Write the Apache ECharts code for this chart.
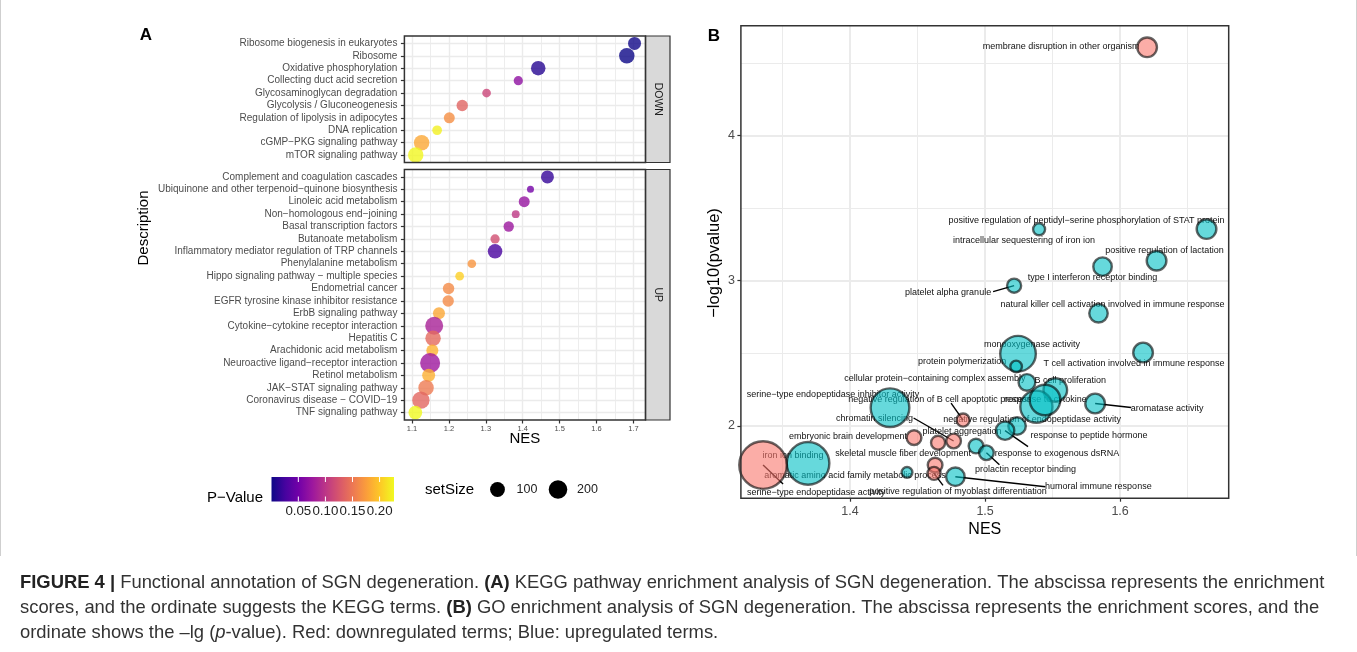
<!DOCTYPE html>
<html>
<head>
<meta charset="utf-8">
<title>Functional annotation of SGN degeneration</title>
<script src="https://cdn.jsdelivr.net/npm/echarts@6/dist/echarts.min.js"></script>
<style>
  html, body { margin: 0; padding: 0; background: #fff; }
  #chart { width: 1357px; height: 652px; }
</style>
</head>
<body>
<div id="chart"></div>
<script>
// ---------- panel A: KEGG terms, listed top to bottom ----------
var keggDown = ['Ribosome biogenesis in eukaryotes', 'Ribosome', 'Oxidative phosphorylation',
  'Collecting duct acid secretion', 'Glycosaminoglycan degradation', 'Glycolysis / Gluconeogenesis',
  'Regulation of lipolysis in adipocytes', 'DNA replication', 'cGMP\u2212PKG signaling pathway',
  'mTOR signaling pathway']
var keggDownNES = [1.703, 1.682, 1.442, 1.388, 1.302, 1.236, 1.201, 1.168, 1.126, 1.110]
var keggDownSize = [65, 115, 93, 22, 19, 42, 37, 25, 115, 115]
var keggDownP = [0.002, 0.0005, 0.012, 0.068, 0.113, 0.136, 0.166, 0.222, 0.181, 0.225]

var keggUp = ['Complement and coagulation cascades', 'Ubiquinone and other terpenoid\u2212quinone biosynthesis',
  'Linoleic acid metabolism', 'Non\u2212homologous end\u2212joining', 'Basal transcription factors',
  'Butanoate metabolism', 'Inflammatory mediator regulation of TRP channels', 'Phenylalanine metabolism',
  'Hippo signaling pathway \u2212 multiple species', 'Endometrial cancer',
  'EGFR tyrosine kinase inhibitor resistance', 'ErbB signaling pathway',
  'Cytokine\u2212cytokine receptor interaction', 'Hepatitis C', 'Arachidonic acid metabolism',
  'Neuroactive ligand\u2212receptor interaction', 'Retinol metabolism', 'JAK\u2212STAT signaling pathway',
  'Coronavirus disease \u2212 COVID\u221219', 'TNF signaling pathway']
var keggUpNES = [1.467, 1.421, 1.404, 1.381, 1.362, 1.325, 1.325, 1.262, 1.229, 1.199,
  1.198, 1.173, 1.160, 1.157, 1.155, 1.149, 1.145, 1.138, 1.124, 1.109]
var keggUpSize = [65, 15, 37, 16, 31, 22, 93, 19, 19, 42, 42, 50, 183, 115, 50, 250, 65, 115, 163, 79]
var keggUpP = [0.018, 0.052, 0.072, 0.102, 0.075, 0.12, 0.027, 0.17, 0.204, 0.163,
  0.163, 0.181, 0.084, 0.14, 0.188, 0.077, 0.186, 0.152, 0.138, 0.2266]

var nesTicksA = [1.1, 1.2, 1.3, 1.4, 1.5, 1.6, 1.7]
var pTicks = [0.05, 0.10, 0.15, 0.20]
var setSizeLegend = [100, 200]

// ---------- panel B: GO terms ----------
var goTerms = ['membrane disruption in other organism',
  'positive regulation of peptidyl\u2212serine phosphorylation of STAT protein',
  'intracellular sequestering of iron ion', 'positive regulation of lactation',
  'type I interferon receptor binding', 'platelet alpha granule',
  'natural killer cell activation involved in immune response', 'monooxygenase activity',
  'protein polymerization', 'T cell activation involved in immune response',
  'cellular protein\u2212containing complex assembly', 'B cell proliferation',
  'serine\u2212type endopeptidase inhibitor activity', 'negative regulation of B cell apoptotic process',
  'response to cytokine', 'aromatase activity', 'chromatin silencing',
  'negative regulation of endopeptidase activity', 'platelet aggregation', 'embryonic brain development',
  'response to peptide hormone', 'skeletal muscle fiber development', 'response to exogenous dsRNA',
  'iron ion binding', 'prolactin receptor binding', 'aromatic amino acid family metabolic process',
  'humoral immune response', 'serine\u2212type endopeptidase activity',
  'positive regulation of myoblast differentiation', '']
var goNES = [1.620, 1.664, 1.540, 1.627, 1.587, 1.5215, 1.584, 1.5244, 1.523, 1.617,
  1.531, 1.552, 1.4296, 1.4837, 1.538, 1.5815, 1.4767, 1.5237, 1.4652, 1.4474,
  1.5148, 1.463, 1.4933, 1.3689, 1.501, 1.4422, 1.478, 1.3356, 1.4622, 1.5444]
var goLogP = [4.607, 3.356, 3.354, 3.138, 3.097, 2.966, 2.776, 2.498, 2.41, 2.506,
  2.30, 2.248, 2.126, 2.041, 2.133, 2.155, 1.897, 2.0, 1.885, 1.92,
  1.968, 1.731, 1.862, 1.743, 1.816, 1.681, 1.651, 1.731, 1.674, 2.179]
var goCount = [43, 43, 16, 43, 38, 22, 38, 141, 15, 43,
  31, 62, 166, 19, 115, 43, 24, 34, 22, 24,
  38, 24, 24, 202, 24, 13, 38, 252, 19, 104]
var goDir = ['DOWN', 'UP', 'UP', 'UP', 'UP', 'UP', 'UP', 'UP', 'UP', 'UP',
  'UP', 'UP', 'UP', 'DOWN', 'UP', 'UP', 'DOWN', 'UP', 'DOWN', 'DOWN',
  'UP', 'DOWN', 'UP', 'UP', 'UP', 'UP', 'UP', 'DOWN', 'DOWN', 'UP']
var nesTicksB = [1.4, 1.5, 1.6]
var logPTicks = [2, 3, 4]

// where the repelled labels sit (px from the bubble) and where their segments end
var goLabelNudge = [[-86, -1], [-120, -9], [-15, 11], [8, -10], [-10, 11], [-66, 7], [14, -9], [14, -9],
  [-54, -5], [-9, 11], [-92, -4], [15, -9], [-57, -13], [-23, -21], [9, -7], [72, 5], [-79, -22],
  [15, -7], [24, -11], [-66, -1], [84, 5], [-32, -12], [81, 7], [-15, -8], [39, 17], [-52, 3],
  [143, 10], [53, 27], [24, 18], [0, 0]]
var goSegment = [null, null, null, null, null, [-21, 6], null, null, null, null, null, null, null,
  [-12, -17], null, [36, 4], [-40, -23], null, null, null, [23, 16], null, null, null, [13, 12],
  null, [90, 10], [20, 19], [9, 12], null]

// ---------- layout ----------
var FONT = '"Liberation Sans", Arial, Helvetica, sans-serif'
var GRID = '#ebebeb'
var A_LEFT = 404.4, A_WIDTH = 241.1
var A_DOWN_TOP = 36, A_DOWN_H = 126.5
var A_UP_TOP = 169.5, A_UP_H = 250.5
var STRIP_W = 24.5
var B_LEFT = 740.9, B_TOP = 25.8, B_WIDTH = 487.8, B_HEIGHT = 472.4
var CB_X = 271.5, CB_Y = 477, CB_W = 122.5, CB_H = 24.5
var CAPTION_SIZE = 18.4

var plasma = ['#0d0887', '#46039f', '#7201a8', '#9c179e', '#bd3786', '#d8576b',
  '#ed7953', '#fb9f3a', '#fdca26', '#f0f921']
var RED = 'rgba(248,118,109,0.75)'
var TEAL = 'rgba(0,191,196,0.75)'

// ggplot-like 5% expansion of a continuous range
function expand(vals) {
  var lo = Math.min.apply(null, vals), hi = Math.max.apply(null, vals)
  var pad = (hi - lo) * 0.05
  return [lo - pad, hi + pad]
}
function minorsOf(major, ext) {
  var step = major[1] - major[0], out = []
  for (var i = 0; i <= major.length; i++) {
    var v = (i < major.length ? major[i] : major[major.length - 1] + step) - step / 2
    if (v > ext[0] && v < ext[1]) out.push(+v.toFixed(4))
  }
  return out
}
function positions(n) {
  var out = []
  for (var i = 1; i <= n; i++) out.push(i)
  return out
}

var extA = expand(keggDownNES.concat(keggUpNES))
var extBx = expand(goNES)
var extBy = expand(goLogP)
var allSize = keggDownSize.concat(keggUpSize)
var nMin = Math.min.apply(null, allSize), nMax = Math.max.apply(null, allSize)
var allP = keggDownP.concat(keggUpP)
var pMin = Math.min.apply(null, allP), pMax = Math.max.apply(null, allP)

// area scale like scale_size(range = c(3, 8))
function sizeA(n) {
  return 7 + 13 * Math.sqrt(Math.max(0, (n - nMin) / (nMax - nMin)))
}
function sizeB(n) {
  return 3 * Math.sqrt(n)
}

var downData = keggDown.map(function (name, i) {
  return [keggDownNES[i], i + 1, keggDownSize[i], keggDownP[i], name]
})
var upData = keggUp.map(function (name, i) {
  return [keggUpNES[i], i + 1, keggUpSize[i], keggUpP[i], name]
})
var goData = goTerms.map(function (name, i) {
  return [goNES[i], goLogP[i], goCount[i]]
})

var tickStyle = { color: '#333', width: 1.2 }

function xMajor(grid, ext, ticks, labels, opt) {
  return {
    gridIndex: grid, type: 'value', min: ext[0], max: ext[1],
    axisLine: { show: false },
    axisTick: { show: labels, length: 3.5, lineStyle: tickStyle, customValues: ticks },
    axisLabel: Object.assign({
      show: labels, customValues: ticks, fontFamily: FONT, color: '#4d4d4d',
      formatter: function (v) { return (+v).toFixed(1) }
    }, opt.label || {}),
    splitLine: { show: true, lineStyle: { color: GRID, width: opt.major } }
  }
}
function minorAxis(grid, ext, ticks, width, pos) {
  return {
    gridIndex: grid, type: 'value', min: ext[0], max: ext[1], position: pos,
    axisLine: { show: false },
    axisTick: { show: false, customValues: ticks },
    axisLabel: { show: false },
    splitLine: { show: true, lineStyle: { color: GRID, width: width } }
  }
}
function yCategory(grid, names) {
  var pos = positions(names.length)
  return {
    gridIndex: grid, type: 'value', inverse: true, min: 0.4, max: names.length + 0.6,
    axisLine: { show: false },
    axisTick: { show: true, length: 3.5, lineStyle: tickStyle, customValues: pos },
    axisLabel: {
      customValues: pos, fontFamily: FONT, fontSize: 10, color: '#4d4d4d', margin: 7,
      formatter: function (v) { return names[Math.round(v) - 1] }
    },
    splitLine: { show: true, lineStyle: { color: GRID, width: 1.4 } }
  }
}

var minorA = minorsOf(nesTicksA, extA)
var minorBx = minorsOf(nesTicksB, extBx)
var minorBy = minorsOf(logPTicks, extBy)

// ---------- decorations: titles, strips, borders, legend, caption ----------
function txt(x, y, s, size, o) {
  o = o || {}
  return {
    type: 'text', x: x, y: y, rotation: o.rot || 0, z: 100,
    style: {
      text: s, fontFamily: FONT, fontSize: size, fill: o.fill || '#000',
      fontWeight: o.bold ? 'bold' : 'normal',
      align: o.align || 'center', verticalAlign: 'middle'
    }
  }
}
function border(x, y, w, h) {
  return { type: 'rect', z: 100, shape: { x: x, y: y, width: w, height: h },
    style: { fill: 'none', stroke: '#333', lineWidth: 1.5 } }
}
function strip(y, h, label) {
  var x = A_LEFT + A_WIDTH
  return [
    { type: 'rect', z: 99, shape: { x: x, y: y, width: STRIP_W, height: h },
      style: { fill: '#d9d9d9', stroke: '#333', lineWidth: 1.2 } },
    txt(x + STRIP_W / 2, y + h / 2, label, 10.5, { rot: -Math.PI / 2, fill: '#1a1a1a' })
  ]
}

var graphics = [
  { type: 'line', shape: { x1: 0.5, y1: 0, x2: 0.5, y2: 556 }, style: { stroke: '#cfcfcf', lineWidth: 1 } },
  { type: 'line', shape: { x1: 1356.5, y1: 0, x2: 1356.5, y2: 556 }, style: { stroke: '#cfcfcf', lineWidth: 1 } },
  txt(146, 35, 'A', 17, { bold: true }),
  txt(714, 36, 'B', 17, { bold: true }),
  txt(144, 228, 'Description', 15, { rot: Math.PI / 2 }),
  txt(A_LEFT + A_WIDTH / 2, 439, 'NES', 15),
  txt(B_LEFT + B_WIDTH / 2, 530, 'NES', 16),
  txt(714, 263, '\u2212log10(pvalue)', 16.5, { rot: Math.PI / 2 }),
  border(A_LEFT, A_DOWN_TOP, A_WIDTH, A_DOWN_H),
  border(A_LEFT, A_UP_TOP, A_WIDTH, A_UP_H),
  border(B_LEFT, B_TOP, B_WIDTH, B_HEIGHT)
].concat(strip(A_DOWN_TOP, A_DOWN_H, 'DOWN'), strip(A_UP_TOP, A_UP_H, 'UP'))

// colour bar legend
var stops = plasma.map(function (c, i) { return { offset: i / (plasma.length - 1), color: c } })
graphics.push(txt(235, 498, 'P\u2212Value', 15))
graphics.push({ type: 'rect', shape: { x: CB_X, y: CB_Y, width: CB_W, height: CB_H },
  style: { fill: new echarts.graphic.LinearGradient(0, 0, 1, 0, stops) } })
pTicks.forEach(function (p) {
  var x = CB_X + (p - pMin) / (pMax - pMin) * CB_W
  graphics.push({ type: 'line', z: 101, shape: { x1: x, y1: CB_Y, x2: x, y2: CB_Y + 5 }, style: { stroke: '#fff', lineWidth: 1 } })
  graphics.push({ type: 'line', z: 101, shape: { x1: x, y1: CB_Y + CB_H - 5, x2: x, y2: CB_Y + CB_H }, style: { stroke: '#fff', lineWidth: 1 } })
  graphics.push(txt(x, 511, p.toFixed(2), 13.3, { fill: '#222' }))
})
// size legend
graphics.push(txt(425, 489.5, 'setSize', 15, { align: 'left' }))
setSizeLegend.forEach(function (n, i) {
  var cx = 497.5 + i * 60.5
  graphics.push({ type: 'circle', shape: { cx: cx, cy: 489.5, r: sizeA(n) / 2 }, style: { fill: '#000' } })
  graphics.push(txt(cx + 19, 489.5, String(n), 12.5, { align: 'left', fill: '#222' }))
})
// caption
var capRich = {
  b: { fontFamily: FONT, fontSize: CAPTION_SIZE, fontWeight: 'bold', fill: '#222' },
  i: { fontFamily: FONT, fontSize: CAPTION_SIZE, fontStyle: 'italic', fill: '#333' }
}
var captionLines = [
  '{b|FIGURE 4 |} Functional annotation of SGN degeneration. {b|(A)} KEGG pathway enrichment analysis of SGN degeneration. The abscissa represents the enrichment',
  'scores, and the ordinate suggests the KEGG terms. {b|(B)} GO enrichment analysis of SGN degeneration. The abscissa represents the enrichment scores, and the',
  'ordinate shows the \u2013lg ({i|p}-value). Red: downregulated terms; Blue: upregulated terms.'
]
captionLines.forEach(function (s, i) {
  graphics.push({ type: 'text', x: 20, y: 583 + i * 25,
    style: { text: s, rich: capRich, fontFamily: FONT, fontSize: CAPTION_SIZE, fill: '#333', align: 'left', verticalAlign: 'middle' } })
})

var chart = echarts.init(document.getElementById('chart'), null, { renderer: 'canvas' })
chart.setOption({
  animation: false,
  backgroundColor: '#fff',
  grid: [
    { left: A_LEFT, top: A_DOWN_TOP, width: A_WIDTH, height: A_DOWN_H },
    { left: A_LEFT, top: A_UP_TOP, width: A_WIDTH, height: A_UP_H },
    { left: B_LEFT, top: B_TOP, width: B_WIDTH, height: B_HEIGHT }
  ],
  xAxis: [
    xMajor(0, extA, nesTicksA, false, { major: 1.4 }),
    minorAxis(0, extA, minorA, 0.9, 'top'),
    xMajor(1, extA, nesTicksA, true, { major: 1.4, label: { fontSize: 7.5, margin: 5 } }),
    minorAxis(1, extA, minorA, 0.9, 'top'),
    xMajor(2, extBx, nesTicksB, true, { major: 2, label: { fontSize: 12.5, margin: 7 } }),
    minorAxis(2, extBx, minorBx, 1, 'top')
  ],
  yAxis: [
    yCategory(0, keggDown),
    yCategory(1, keggUp),
    {
      gridIndex: 2, type: 'value', min: extBy[0], max: extBy[1],
      axisLine: { show: false },
      axisTick: { show: true, length: 3.5, lineStyle: tickStyle, customValues: logPTicks },
      axisLabel: { customValues: logPTicks, fontFamily: FONT, fontSize: 12.5, color: '#4d4d4d', margin: 6 },
      splitLine: { show: true, lineStyle: { color: GRID, width: 2 } }
    },
    minorAxis(2, extBy, minorBy, 1, 'right')
  ],
  visualMap: [{
    type: 'continuous', show: false, seriesIndex: [0, 1], dimension: 3,
    min: pMin, max: pMax, inRange: { color: plasma }
  }],
  series: [
    { type: 'scatter', xAxisIndex: 0, yAxisIndex: 0, data: downData,
      symbolSize: function (v) { return sizeA(v[2]) } },
    { type: 'scatter', xAxisIndex: 2, yAxisIndex: 1, data: upData,
      symbolSize: function (v) { return sizeA(v[2]) } },
    { type: 'scatter', xAxisIndex: 4, yAxisIndex: 2, data: goData,
      symbolSize: function (v) { return sizeB(v[2]) },
      itemStyle: {
        color: function (p) { return goDir[p.dataIndex] === 'DOWN' ? RED : TEAL },
        borderColor: 'rgba(0,0,0,0.75)', borderWidth: 2.4
      } },
    { type: 'custom', xAxisIndex: 4, yAxisIndex: 2, data: goData, clip: false,
      renderItem: function (params, api) {
        var i = params.dataIndex
        var c = api.coord([api.value(0), api.value(1)])
        var kids = []
        var seg = goSegment[i]
        if (seg) {
          kids.push({ type: 'line', shape: { x1: c[0], y1: c[1], x2: c[0] + seg[0], y2: c[1] + seg[1] },
            style: { stroke: '#000', lineWidth: 1.4 } })
        }
        if (goTerms[i]) {
          var nd = goLabelNudge[i]
          kids.push({ type: 'text', x: c[0] + nd[0], y: c[1] + nd[1],
            style: { text: goTerms[i], fontFamily: FONT, fontSize: 9, fill: '#111',
              align: 'center', verticalAlign: 'middle' } })
        }
        return { type: 'group', children: kids }
      } }
  ],
  graphic: { elements: graphics }
})
</script>
</body>
</html>
